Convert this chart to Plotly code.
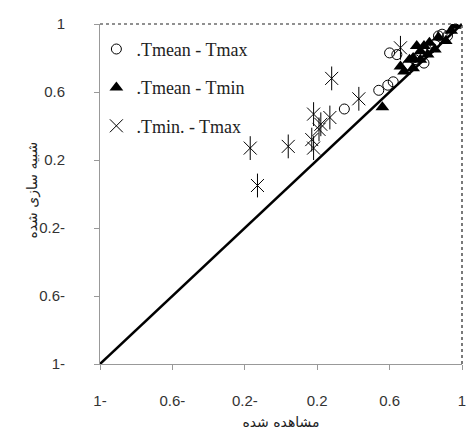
import plotly.graph_objects as go

# Observed vs simulated values for each temperature pair
tmax_obs = [0.35, 0.54, 0.59, 0.62, 0.60, 0.64, 0.70, 0.74, 0.79, 0.83, 0.85, 0.87, 0.89, 0.92]
tmax_sim = [0.50, 0.61, 0.64, 0.66, 0.83, 0.82, 0.76, 0.79, 0.77, 0.86, 0.88, 0.93, 0.94, 0.93]

tmin_obs = [0.56, 0.66, 0.68, 0.71, 0.73, 0.73, 0.75, 0.77, 0.77, 0.79, 0.81, 0.82, 0.85, 0.87, 0.91, 0.94, 0.96]
tmin_sim = [0.51, 0.75, 0.72, 0.79, 0.74, 0.80, 0.87, 0.84, 0.79, 0.87, 0.82, 0.89, 0.85, 0.92, 0.90, 0.96, 0.99]

mm_obs = [0.28, 0.43, 0.18, 0.27, 0.22, 0.21, 0.17, 0.18, 0.04, -0.17, -0.13, 0.66]
mm_sim = [0.68, 0.56, 0.47, 0.45, 0.41, 0.38, 0.32, 0.27, 0.28, 0.27, 0.05, 0.86]

tick_vals = [-1, -0.6, -0.2, 0.2, 0.6, 1]
tick_text = ["1-", "0.6-", "0.2-", "0.2", "0.6", "1"]
line_pts = [-1, 1]

fig = go.Figure()

# 1:1 reference line
fig.add_trace(go.Scatter(x=line_pts, y=line_pts, mode="lines",
                         line=dict(color="black", width=2.5), showlegend=False,
                         hoverinfo="skip"))

fig.add_trace(go.Scatter(x=tmax_obs, y=tmax_sim, mode="markers", name=".Tmean - Tmax",
                         legendgroup="a",
                         marker=dict(symbol="circle-open", size=10, color="black",
                                     line=dict(width=1))))
fig.add_trace(go.Scatter(x=tmin_obs, y=tmin_sim, mode="markers", name=".Tmean - Tmin",
                         legendgroup="b",
                         marker=dict(symbol="triangle-up", size=12, color="black")))
fig.add_trace(go.Scatter(x=mm_obs, y=mm_sim, mode="markers", name=".Tmin. - Tmax",
                         legendgroup="c",
                         marker=dict(symbol="x-thin-open", size=13, color="black",
                                     line=dict(width=1, color="black"))))
fig.add_trace(go.Scatter(x=mm_obs, y=mm_sim, mode="markers", showlegend=False,
                         legendgroup="c",
                         marker=dict(symbol="line-ns-open", size=17, color="black",
                                     line=dict(width=1, color="black"))))

axis_common = dict(
    range=[-1, 1], tickvals=tick_vals, ticktext=tick_text,
    showgrid=False, zeroline=False, showline=True, linecolor="#999", linewidth=1,
    ticks="outside", ticklen=5, tickcolor="#999",
    tickfont=dict(family="Liberation Sans", size=15, color="#333"),
)

fig.update_layout(
    width=471, height=437,
    margin=dict(l=100, r=5, t=24, b=73),
    paper_bgcolor="white", plot_bgcolor="white",
    xaxis=dict(**axis_common, ticklabelstandoff=18,
               title=dict(text="مشاهده شده", font=dict(family="DejaVu Sans", size=14, color="#222"),
                          standoff=9)),
    yaxis=dict(**axis_common, ticklabelstandoff=26),
    legend=dict(x=-0.01, y=0.98, xanchor="left", yanchor="top",
                bgcolor="rgba(0,0,0,0)", tracegroupgap=12,
                font=dict(family="Liberation Serif", size=18, color="#222"),
                itemwidth=30),
    showlegend=True,
)

# Vertical y-axis title, placed in pixels left of the plot area
fig.add_annotation(text="شبیه سازی شده", xref="paper", yref="paper", x=0, y=0.51,
                   xshift=-67, textangle=-90, showarrow=False,
                   xanchor="center", yanchor="middle",
                   font=dict(family="DejaVu Sans", size=14, color="#222"))

# Dark dotted top and right border of the plot frame
fig.add_shape(type="line", xref="paper", yref="paper", x0=0, x1=1, y0=1, y1=1,
              line=dict(color="#222", width=1.2, dash="dot"))
fig.add_shape(type="line", xref="paper", yref="paper", x0=1, x1=1, y0=0, y1=1,
              line=dict(color="#222", width=1.2, dash="dot"))

fig.write_html("out.html")
